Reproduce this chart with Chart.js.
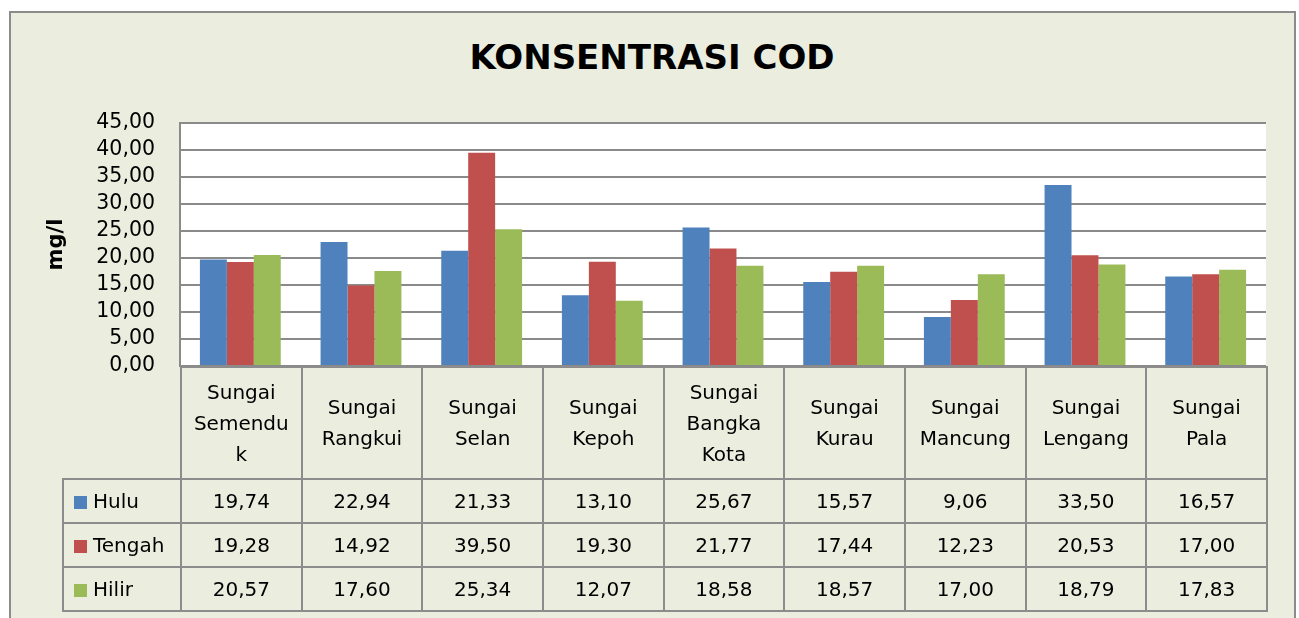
<!DOCTYPE html>
<html>
<head>
<meta charset="utf-8">
<script src="https://cdn.jsdelivr.net/npm/chart.js@4"></script>
<style>
  body { margin: 0; background: #fff; width: 1299px; height: 618px; overflow: hidden; position: relative; font-family: "DejaVu Sans", sans-serif; }
  #frame { position: absolute; left: 9px; top: 11px; width: 1283px; height: 640px; background: #ebeedf; border: 2px solid #8c8c8c; }
  #title { position: absolute; left: 0; width: 1304px; top: 37px; text-align: center; font-weight: bold; font-size: 34px; color: #000; }
  #chart { position: absolute; left: 0; top: 0; }
  #table { position: absolute; left: 62px; top: 366px; border-collapse: collapse; table-layout: fixed; font-size: 20px; color: #000; }
  #table td { border: 2px solid #8c8c8c; text-align: center; padding: 0; }
  #table tr.head td { height: 110px; line-height: 31px; }
  #table tr.head td.corner { border-top: none; border-left: none; }
  #table tr.val td { height: 42px; }
  #table td.name { text-align: left; padding-left: 10px; white-space: nowrap; }
  .key { display: inline-block; width: 13px; height: 13px; margin-right: 6px; vertical-align: -1px; }
</style>
</head>
<body>
<div id="frame"></div>
<div id="title">KONSENTRASI COD</div>
<canvas id="chart" width="1299" height="618"></canvas>
<table id="table"></table>
<script>
const categories = [
  ["Sungai", "Semendu", "k"],
  ["Sungai", "Rangkui"],
  ["Sungai", "Selan"],
  ["Sungai", "Kepoh"],
  ["Sungai", "Bangka", "Kota"],
  ["Sungai", "Kurau"],
  ["Sungai", "Mancung"],
  ["Sungai", "Lengang"],
  ["Sungai", "Pala"]
];
const seriesNames = ["Hulu", "Tengah", "Hilir"];
const hulu = [19.74, 22.94, 21.33, 13.10, 25.67, 15.57, 9.06, 33.50, 16.57];
const tengah = [19.28, 14.92, 39.50, 19.30, 21.77, 17.44, 12.23, 20.53, 17.00];
const hilir = [20.57, 17.60, 25.34, 12.07, 18.58, 18.57, 17.00, 18.79, 17.83];
const colors = ["#4f81bd", "#c0504d", "#9bbb59"];
const yMin = 0, yMax = 45, yStep = 5;

const fmt = (v) => v.toFixed(2).replace(".", ",");
const gridColor = "#8a8a8a";

// white plot area like excel
const plotBg = {
  id: "plotBg",
  beforeDraw(chart) {
    const { ctx, chartArea: a } = chart;
    ctx.save();
    ctx.fillStyle = "#ffffff";
    ctx.fillRect(a.left, a.top, a.right - a.left, a.bottom - a.top);
    ctx.restore();
  }
};

const allSeries = [hulu, tengah, hilir];

const chart = new Chart(document.getElementById("chart").getContext("2d"), {
  type: "bar",
  data: {
    labels: categories.map((c) => c.join(" ")),
    datasets: allSeries.map((data, i) => ({
      label: seriesNames[i],
      data: data,
      backgroundColor: colors[i],
      borderWidth: 0,
      categoryPercentage: 0.67,
      barPercentage: 1
    }))
  },
  options: {
    responsive: false,
    animation: false,
    devicePixelRatio: 1,
    layout: { padding: { top: 123, right: 33, bottom: 252, left: 0 } },
    plugins: { legend: { display: false }, tooltip: { enabled: false } },
    scales: {
      x: { display: false },
      y: {
        min: yMin,
        max: yMax,
        ticks: {
          stepSize: yStep,
          autoSkip: false,
          padding: 25,
          color: "#000",
          font: { family: "DejaVu Sans", size: 20.5, lineHeight: 1 },
          callback: (v) => fmt(v)
        },
        grid: { color: gridColor, lineWidth: 2, drawTicks: false },
        border: { display: true, color: gridColor, width: 2 },
        title: {
          display: true,
          text: "mg/l",
          color: "#000",
          font: { family: "DejaVu Sans", size: 21, weight: "bold" },
          padding: { top: 44, bottom: 0 }
        },
        afterFit: (scale) => { scale.width = 180; }
      }
    }
  },
  plugins: [plotBg]
});

// data table under the plot, columns follow the category scale
const table = document.getElementById("table");
const area = chart.chartArea;
const colW = (area.right - area.left) / categories.length;
const cg = document.createElement("colgroup");
const first = document.createElement("col");
first.style.width = (area.left - 62) + "px";
cg.appendChild(first);
categories.forEach(() => {
  const c = document.createElement("col");
  c.style.width = colW + "px";
  cg.appendChild(c);
});
table.appendChild(cg);

let html = '<tr class="head"><td class="corner"></td>';
categories.forEach((c) => { html += "<td>" + c.join("<br>") + "</td>"; });
html += "</tr>";
allSeries.forEach((data, i) => {
  html += '<tr class="val"><td class="name"><span class="key" style="background:' + colors[i] + '"></span>' + seriesNames[i] + "</td>";
  data.forEach((v) => { html += "<td>" + fmt(v) + "</td>"; });
  html += "</tr>";
});
table.insertAdjacentHTML("beforeend", html);
</script>
</body>
</html>
